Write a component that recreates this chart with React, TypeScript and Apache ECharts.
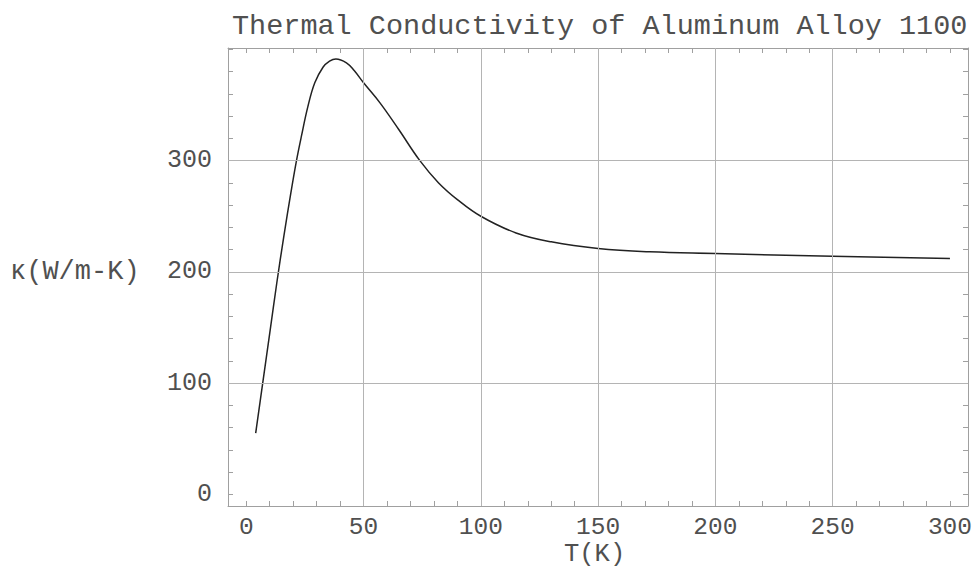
import React, { useEffect, useRef } from "react";
import * as echarts from "echarts";

const temperatures = [4, 7, 10, 13, 16, 19, 21.3, 23.5, 26.3, 29.2, 32.7, 35.5, 38.2, 42.7, 46, 50, 57, 65, 74, 82, 90, 100, 115, 130, 150, 172, 200, 250, 300];
const conductivity = [55, 100, 145, 190, 232, 271, 299, 322, 349, 370, 384, 389.5, 391.5, 388, 381, 370, 352, 328, 300, 280, 265, 250, 235, 227, 221, 218, 216.5, 214, 212];
const xTickLabels = [0, 50, 100, 150, 200, 250, 300];
const yTickLabels = [0, 100, 200, 300];
const xMinorTicks = Array.from({ length: 31 }, (_, i) => i * 10);
const yMinorTicks = Array.from({ length: 21 }, (_, i) => i * 20);
const xGridLines = [50, 100, 150, 200, 250];
const yGridLines = [100, 200, 300];

const FONT = "'Liberation Mono', 'DejaVu Sans Mono', monospace";
const TEXT = "#505050";
const FRAME = "#a0a0a0";

export default function App() {
  const ref = useRef<HTMLDivElement>(null);
  useEffect(() => {
    if (!ref.current) return;
    const chart = echarts.init(ref.current, null, { renderer: "svg" });
    const axisCommon = {
      type: "value" as const,
      axisLine: { show: true, onZero: false, lineStyle: { color: FRAME, width: 1 } },
      splitLine: { show: false },
    };
    chart.setOption({
      animation: false,
      backgroundColor: "#fff",
      title: {
        text: "Thermal Conductivity of Aluminum Alloy 1100",
        left: 227,
        top: 7,
        textStyle: { fontFamily: FONT, fontSize: 28.5, fontWeight: "normal", color: TEXT },
      },
      grid: { left: 228, right: 9, top: 48, bottom: 61, containLabel: false },
      xAxis: [
        {
          ...axisCommon,
          position: "bottom",
          min: -7.8,
          max: 307.7,
          axisTick: { show: true, inside: true, length: 5, customValues: xMinorTicks, lineStyle: { color: FRAME } },
          axisLabel: { show: true, customValues: xTickLabels, margin: 9, fontFamily: FONT, fontSize: 24.5, color: TEXT },
        },
        {
          ...axisCommon,
          position: "top",
          min: -7.8,
          max: 307.7,
          axisTick: { show: true, inside: true, length: 5, customValues: xMinorTicks, lineStyle: { color: FRAME } },
          axisLabel: { show: false },
        },
      ],
      yAxis: [
        {
          ...axisCommon,
          position: "left",
          min: -10.5,
          max: 401.3,
          axisTick: { show: true, inside: true, length: 5, customValues: yMinorTicks, lineStyle: { color: FRAME } },
          axisLabel: { show: true, customValues: yTickLabels, margin: 16, fontFamily: FONT, fontSize: 25, color: TEXT },
        },
        {
          ...axisCommon,
          position: "right",
          min: -10.5,
          max: 401.3,
          axisTick: { show: true, inside: true, length: 5, customValues: yMinorTicks, lineStyle: { color: FRAME } },
          axisLabel: { show: false },
        },
      ],
      graphic: [
        {
          type: "text",
          left: 10,
          top: 258,
          style: { text: "κ(W/m-K)", fontFamily: FONT, fontSize: 27, fill: TEXT },
        },
        {
          type: "text",
          left: 564,
          top: 541,
          style: { text: "T(K)", fontFamily: FONT, fontSize: 25.5, fill: TEXT },
        },
      ],
      series: [
        {
          type: "line",
          data: temperatures.map((t, i) => [t, conductivity[i]]),
          xAxisIndex: 0,
          yAxisIndex: 0,
          smooth: 0.4,
          showSymbol: false,
          symbol: "none",
          lineStyle: { color: "#222", width: 1.5 },
          markLine: {
            silent: true,
            symbol: "none",
            label: { show: false },
            lineStyle: { color: "#b4b4b4", width: 1, type: "solid" },
            data: [
              ...xGridLines.map((v) => ({ xAxis: v })),
              ...yGridLines.map((v) => ({ yAxis: v })),
            ],
          },
          z: 3,
        },
      ],
    });
    return () => chart.dispose();
  }, []);
  return (
    <div
      ref={ref}
      style={{ position: "fixed", left: 0, top: 0, width: 977, height: 567 }}
    />
  );
}
